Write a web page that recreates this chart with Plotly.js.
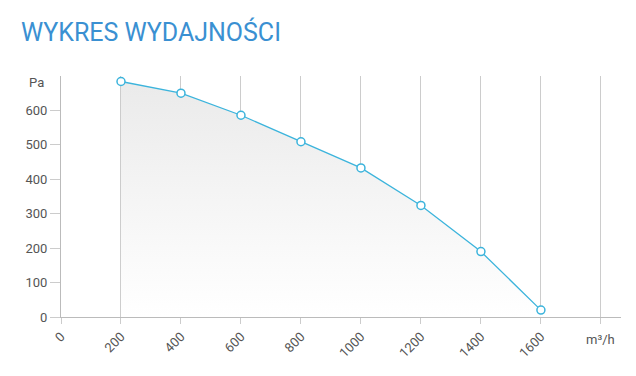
<!DOCTYPE html>
<html><head><meta charset="utf-8">
<script src="https://cdn.plot.ly/plotly-3.0.1.min.js"></script>
<style>html,body{margin:0;padding:0;background:#fff}#c{width:636px;height:376px}</style>
</head><body><div id="c"></div>
<script>
const flow = [200, 400, 600, 800, 1000, 1200, 1400, 1600];
const pressure = [684, 650, 586, 509, 433, 324, 190, 20];
const xTicks = [0, 200, 400, 600, 800, 1000, 1200, 1400, 1600, 1800];
const xTickText = ['0', '200', '400', '600', '800', '1000', '1200', '1400', '1600', ''];
const yTicks = [0, 100, 200, 300, 400, 500, 600];

const trace = {
  x: flow, y: pressure, type: 'scatter', mode: 'lines+markers',
  line: {color: '#3cb4dc', width: 1.3},
  marker: {symbol: 'circle', size: 8, color: '#ffffff', line: {color: '#3cb4dc', width: 1.5}},
  fill: 'tozeroy',
  fillgradient: {type: 'vertical', start: 0, stop: 700, colorscale: [[0, 'rgba(255,255,255,1)'], [1, 'rgba(234,234,234,1)']]},
  hoverinfo: 'x+y'
};

const layout = {
  width: 636, height: 376,
  margin: {l: 61, r: 15, t: 76, b: 59},
  paper_bgcolor: '#fff', plot_bgcolor: '#fff',
  showlegend: false,
  font: {family: 'Roboto, sans-serif', color: '#555', size: 13},
  xaxis: {
    range: [0, 1867], tickvals: xTicks, ticktext: xTickText, tickangle: -45,
    showgrid: true, gridcolor: '#cccccc', gridwidth: 1, zeroline: false,
    showline: true, linecolor: '#bbbbbb', linewidth: 1,
    ticks: 'outside', ticklen: 6, tickcolor: '#cccccc',
    tickfont: {size: 13, color: '#555'}, fixedrange: true
  },
  yaxis: {
    range: [0, 700], tickvals: yTicks, showgrid: false, zeroline: false,
    showline: true, linecolor: '#bbbbbb', linewidth: 1,
    ticks: 'outside', ticklen: 10, tickcolor: '#cccccc',
    tickfont: {size: 13, color: '#555'}, fixedrange: true
  },
  annotations: [
    {text: 'WYKRES WYDAJNOŚCI', xref: 'paper', yref: 'paper', x: (19-61)/560, y: 1 + (76-32)/241, xanchor: 'left', yanchor: 'middle', showarrow: false,
     font: {family: 'Roboto, sans-serif', size: 25, color: '#3a90d2'}},
    {text: 'Pa', xref: 'paper', yref: 'paper', x: -15/560, y: 1 - 6/241, xanchor: 'right', yanchor: 'middle', showarrow: false,
     font: {size: 13, color: '#555'}},
    {text: 'm³/h', xref: 'x', yref: 'paper', x: 1800, y: -22/241, xanchor: 'center', yanchor: 'middle', showarrow: false,
     font: {size: 13, color: '#555'}}
  ]
};
Plotly.newPlot('c', [trace], layout, {displayModeBar: false, staticPlot: true});
</script></body></html>
